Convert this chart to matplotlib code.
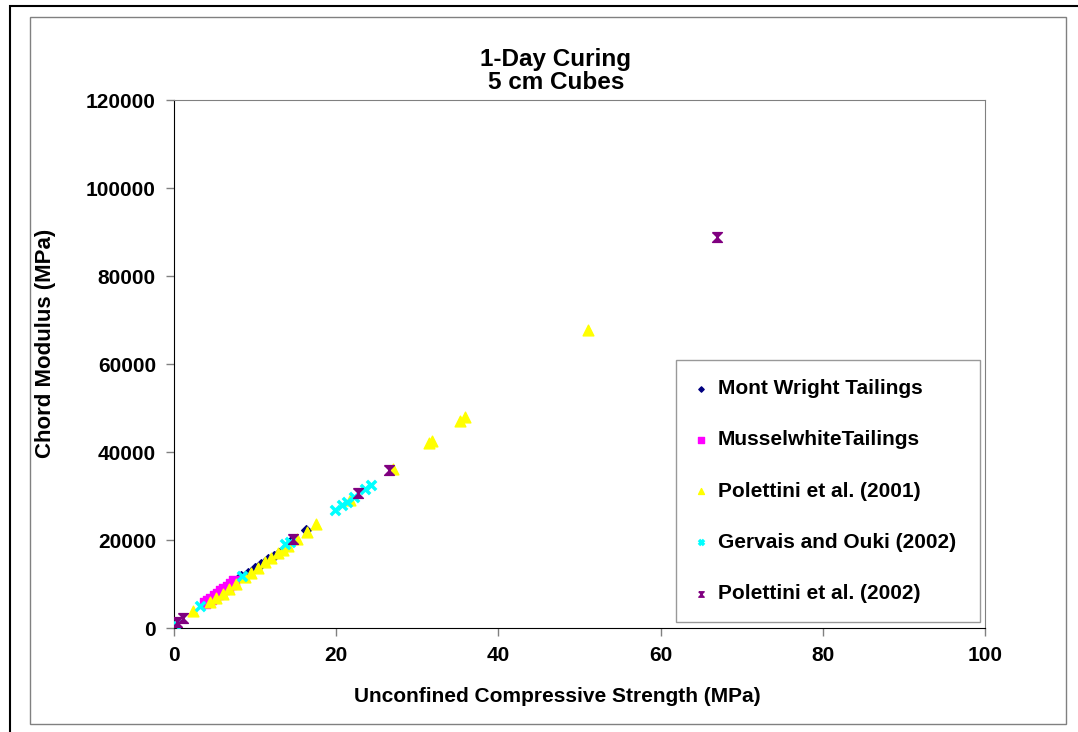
import matplotlib
matplotlib.use('Agg')
import matplotlib.pyplot as plt
from matplotlib.patches import Rectangle

plt.rcParams['font.family'] = ['Liberation Sans', 'DejaVu Sans']
plt.rcParams['font.weight'] = 'bold'

# Mont Wright Tailings
mw_x = [8.3, 9.1, 10.0, 10.7, 11.6, 12.3, 12.9, 14.6, 16.3]
mw_y = [11900, 12600, 13600, 14500, 15600, 16400, 17000, 20000, 22200]
# Musselwhite Tailings
mu_x = [3.8, 4.2, 4.6, 5.0, 5.4, 5.8, 6.2, 6.6, 7.0, 7.4]
mu_y = [5700, 6200, 6700, 7200, 7700, 8300, 8800, 9400, 10000, 10600]
# Polettini et al. (2001)
p1_x = [2.4, 4.4, 5.2, 6.0, 6.8, 7.7, 8.8, 9.5, 10.3, 11.2, 12.0, 12.8, 13.4,
        14.1, 15.2, 16.4, 17.5, 21.7, 27.0, 31.5, 31.8, 35.3, 35.9, 51.0]
p1_y = [3800, 5800, 6800, 7800, 8900, 10100, 11600, 12600, 13700, 14900, 16000,
        17000, 17800, 18700, 20300, 21900, 23700, 29100, 36200, 42100, 42600,
        47100, 48000, 67700]
# Gervais and Ouki (2002)
go_x = [0.1, 3.2, 8.4, 13.7, 14.3, 19.8, 20.7, 21.3, 22.2, 23.5, 24.3]
go_y = [1000, 5000, 11800, 19000, 19600, 26800, 28000, 28600, 29700, 31500, 32600]
# Polettini et al. (2002)
p2_x = [0.4, 1.1, 14.7, 22.7, 26.5, 66.9]
p2_y = [1400, 2300, 20300, 30600, 35800, 88800]

hourglass = [(-1, 1), (1, 1), (-1, -1), (1, -1), (-1, 1)]

fig = plt.figure(figsize=(10.78, 7.32), dpi=100)

# outer frames
fig.patches.append(Rectangle((10/1078, -0.01), 1.1, (732-6)/732 + 0.01,
                             transform=fig.transFigure, fill=False,
                             edgecolor='black', linewidth=1.5))
fig.patches.append(Rectangle((30/1078, (732-724)/732), (1066-30)/1078, (724-17)/732,
                             transform=fig.transFigure, fill=False,
                             edgecolor='#808080', linewidth=1))

ax = fig.add_axes([174/1078, (732-628)/732, (985-174)/1078, (628-100)/732])

ax.scatter(mw_x, mw_y, marker='D', s=24, color='#000080', label='Mont Wright Tailings', zorder=3)
ax.scatter(mu_x, mu_y, marker='s', s=48, color='#FF00FF', label='MusselwhiteTailings', zorder=3)
ax.scatter(p1_x, p1_y, marker='^', s=60, color='#FFFF00', label='Polettini et al. (2001)', zorder=4)
ax.scatter(go_x, go_y, marker='x', s=45, color='#00FFFF', linewidths=2.5,
           label='Gervais and Ouki (2002)', zorder=4)
ax.scatter(p2_x, p2_y, marker=hourglass, s=50, color='#800080', linewidths=1,
           label='Polettini et al. (2002)', zorder=5)

ax.set_xlim(0, 100)
ax.set_ylim(0, 120000)
ax.set_xticks([0, 20, 40, 60, 80, 100])
ax.set_yticks([0, 20000, 40000, 60000, 80000, 100000, 120000])
ax.tick_params(direction='out', length=6, width=1, color='#808080', labelsize=15, pad=7)
for lab in ax.get_xticklabels() + ax.get_yticklabels():
    lab.set_fontweight('bold')

ax.spines['left'].set_color('black')
ax.spines['bottom'].set_color('black')
ax.spines['top'].set_color('#808080')
ax.spines['right'].set_color('#808080')

ax.set_xlabel('Unconfined Compressive Strength (MPa)', fontsize=15, fontweight='bold')
ax.set_ylabel('Chord Modulus (MPa)', fontsize=16, fontweight='bold')
ax.xaxis.set_label_coords((557-174)/811, -(697-628)/528)
ax.yaxis.set_label_coords((46-174)/811, (628-343)/528)
ax.xaxis.label.set_va('center')
ax.yaxis.label.set_va('center')

fig.text(556/1078, 1 - 71/732, '1-Day Curing\n5 cm Cubes', ha='center', va='center',
         fontsize=17.5, fontweight='bold', linespacing=1.05)

leg = ax.legend(loc='lower left', bbox_to_anchor=((676-174)/811, 6/528, (980-676)/811, (622-362)/528),
                mode='expand', frameon=True, fancybox=False, prop={'weight': 'bold', 'size': 15},
                markerscale=0.55, handlelength=0.6, handletextpad=0.5, labelspacing=1.55,
                borderpad=0.9, borderaxespad=0)
leg.get_frame().set_edgecolor('#808080')
leg.get_frame().set_linewidth(1)

fig.savefig('out.png', dpi=100)
